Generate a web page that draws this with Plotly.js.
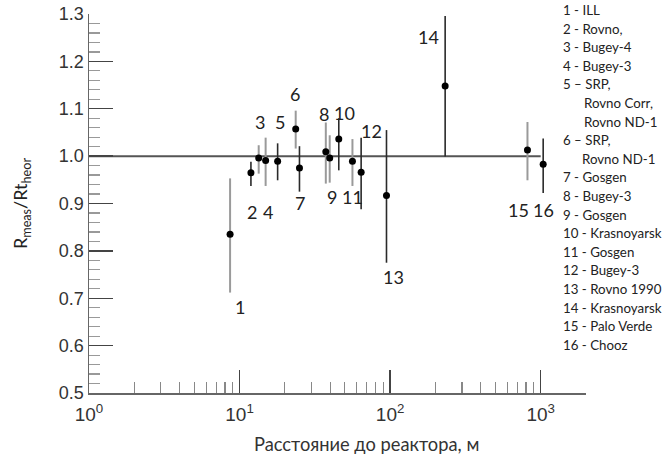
<!DOCTYPE html>
<html>
<head>
<meta charset="utf-8">
<script src="https://cdn.plot.ly/plotly-3.0.1.min.js"></script>
<style>
  html, body { margin: 0; padding: 0; background: #fff; }
  #chart { width: 663px; height: 456px; }
</style>
</head>
<body>
<div id="chart"></div>
<script>
// ---- data ----
const labels    = [1, 2, 3, 4, 5, 6, 7, 8, 9, 10, 11, 12, 13, 14, 15, 16];
const distance  = [8.65, 11.9, 13.4, 14.9, 17.9, 23.6, 25.0, 37.4, 39.7, 45.6, 56.2, 64.2, 94.6, 232, 817, 1039];
const ratio     = [0.835, 0.965, 0.996, 0.991, 0.989, 1.057, 0.975, 1.009, 0.996, 1.036, 0.989, 0.966, 0.917, 1.148, 1.013, 0.983];
const errPlus   = [0.118, 0.023, 0.027, 0.048, 0.038, 0.039, 0.046, 0.062, 0.048, 0.044, 0.047, 0.073, 0.138, 0.148, 0.059, 0.054];
const errMinus  = [0.123, 0.028, 0.033, 0.054, 0.040, 0.041, 0.050, 0.067, 0.052, 0.066, 0.052, 0.078, 0.142, 0.149, 0.064, 0.061];
const refLineX  = [1, 1000];
const refLineY  = [1, 1];
const legendLines = [
  "1 - ILL", "2 - Rovno,", "3 - Bugey-4", "4 - Bugey-3",
  "5 \u2013 SRP,", "Rovno Corr,", "Rovno ND-1",
  "6 \u2013 SRP,", "Rovno ND-1",
  "7 - Gosgen", "8 - Bugey-3", "9 - Gosgen", "10 - Krasnoyarsk",
  "11 - Gosgen", "12 - Bugey-3", "13 - Rovno 1990", "14 - Krasnoyarsk",
  "15 - Palo Verde", "16 - Chooz"
];
const xTickVals = [1, 10, 100, 1000];
const xTickText = ["10<sup>0</sup>", "10<sup>1</sup>", "10<sup>2</sup>", "10<sup>3</sup>"];
const xTitle = "Расстояние до реактора, м";
const yTitle = "R<sub>meas</sub>/Rt<sub>heor</sub>";

// ---- styling (not data) ----
const darkBarIdx = [1, 4, 6, 9, 11, 12, 13, 15];          // indices with dark error bars
const legendIndent = [0,0,0,0,0,21,21,0,19,0,0,0,0,0,0,0,0,0,0];
// label placement: side (+1 above top of bar, -1 below bottom), dx, dy in px
const labelPlace = [
  [-1, 10, -14], [-1, 1, -26], [1, 1, 23], [-1, 2, -26], [1, 2, 21.5],
  [1, -1, 17], [-1, 1, -11.5], [1, -2, 8.5], [-1, 2, -14], [1, 6, 5],
  [-1, 0, -10.7], [1, 10, 6.7], [-1, 7, -14], [1, -17, -20.7], [-1, -9, -29.3], [-1, 0, -16.6]
];

function pick(arr, idx) { return idx.map(i => arr[i]); }
const allIdx = labels.map((_, i) => i);
const grayIdx = allIdx.filter(i => darkBarIdx.indexOf(i) < 0);

const traces = [
  { type: 'scatter', mode: 'lines', x: refLineX, y: refLineY,
    line: { color: '#555', width: 2 }, hoverinfo: 'skip', showlegend: false },
  { type: 'scatter', mode: 'markers', x: pick(distance, grayIdx), y: pick(ratio, grayIdx),
    marker: { color: 'rgba(0,0,0,0)', size: 1 },
    error_y: { type: 'data', symmetric: false, array: pick(errPlus, grayIdx), arrayminus: pick(errMinus, grayIdx),
               color: '#9a9a9a', thickness: 2, width: 0 }, showlegend: false },
  { type: 'scatter', mode: 'markers', x: pick(distance, darkBarIdx), y: pick(ratio, darkBarIdx),
    marker: { color: 'rgba(0,0,0,0)', size: 1 },
    error_y: { type: 'data', symmetric: false, array: pick(errPlus, darkBarIdx), arrayminus: pick(errMinus, darkBarIdx),
               color: '#2a2a2a', thickness: 1.6, width: 0 }, showlegend: false },
  { type: 'scatter', mode: 'markers', x: distance, y: ratio, text: labels.map(String),
    marker: { color: '#000', size: 7 }, showlegend: false }
];

const annotations = [];
labels.forEach((lab, i) => {
  const p = labelPlace[i];
  const yv = p[0] > 0 ? ratio[i] + errPlus[i] : ratio[i] - errMinus[i];
  annotations.push({
    x: Math.log10(distance[i]), y: yv, xref: 'x', yref: 'y',
    text: String(lab), showarrow: false, xanchor: 'center', yanchor: 'middle',
    xshift: p[1], yshift: p[2],
    font: { family: 'Lato, sans-serif', size: 18, color: '#222' }
  });
});
const lineH = 18.6;
legendLines.forEach((t, i) => {
  annotations.push({
    x: 1, y: 1, xref: 'paper', yref: 'paper', xanchor: 'left', yanchor: 'middle',
    xshift: (560.7 - 586) + legendIndent[i], yshift: 4 - i * lineH,
    text: t, showarrow: false, align: 'left',
    font: { family: 'Lato, sans-serif', size: 13.3, color: '#222' }
  });
});
annotations.push({
  x: (366 - 89) / 497, y: 0, xref: 'paper', yref: 'paper', xanchor: 'center', yanchor: 'middle',
  yshift: -51, text: xTitle, showarrow: false,
  font: { family: 'Lato, sans-serif', size: 18.3, color: '#333' }
});

const minorX = [];
[1, 10, 100, 1000].forEach(d => { for (let k = 2; k <= 9; k++) minorX.push(d * k); });

const layout = {
  width: 663, height: 456,
  margin: { l: 89, r: 77, t: 14, b: 63 },
  paper_bgcolor: '#fff', plot_bgcolor: '#fff',
  showlegend: false,
  xaxis: {
    type: 'log', range: [0, Math.log10(2000)],
    showline: true, linecolor: '#666', linewidth: 1.5,
    showgrid: false, zeroline: false, automargin: false,
    ticks: 'inside', ticklen: 23, tickwidth: 1.3, tickcolor: '#444',
    tickmode: 'array', tickvals: xTickVals, ticktext: xTickText, ticklabelstandoff: 4,
    tickfont: { family: 'Liberation Sans, Arial, sans-serif', size: 19, color: '#333' },
    minor: { tickmode: 'array', tickvals: minorX, ticks: 'inside', ticklen: 11, tickwidth: 1.2, tickcolor: '#888', showgrid: false }
  },
  yaxis: {
    range: [0.5, 1.3],
    showline: true, linecolor: '#666', linewidth: 1.5,
    showgrid: false, zeroline: false, automargin: false,
    ticks: 'inside', ticklen: 24, tickwidth: 1.3, tickcolor: '#444',
    tickmode: 'linear', tick0: 0.5, dtick: 0.1, tickformat: '.1f',
    tickfont: { family: 'Liberation Sans, Arial, sans-serif', size: 18, color: '#333' },
    minor: { tickmode: 'linear', tick0: 0.5, dtick: 0.02, ticks: 'inside', ticklen: 11, tickwidth: 1.2, tickcolor: '#999', showgrid: false },
    title: { text: yTitle, standoff: 26, font: { family: 'Lato, sans-serif', size: 18, color: '#222' } }
  },
  annotations: annotations
};

Plotly.newPlot('chart', traces, layout, { displayModeBar: false, staticPlot: true });
</script>
</body>
</html>
